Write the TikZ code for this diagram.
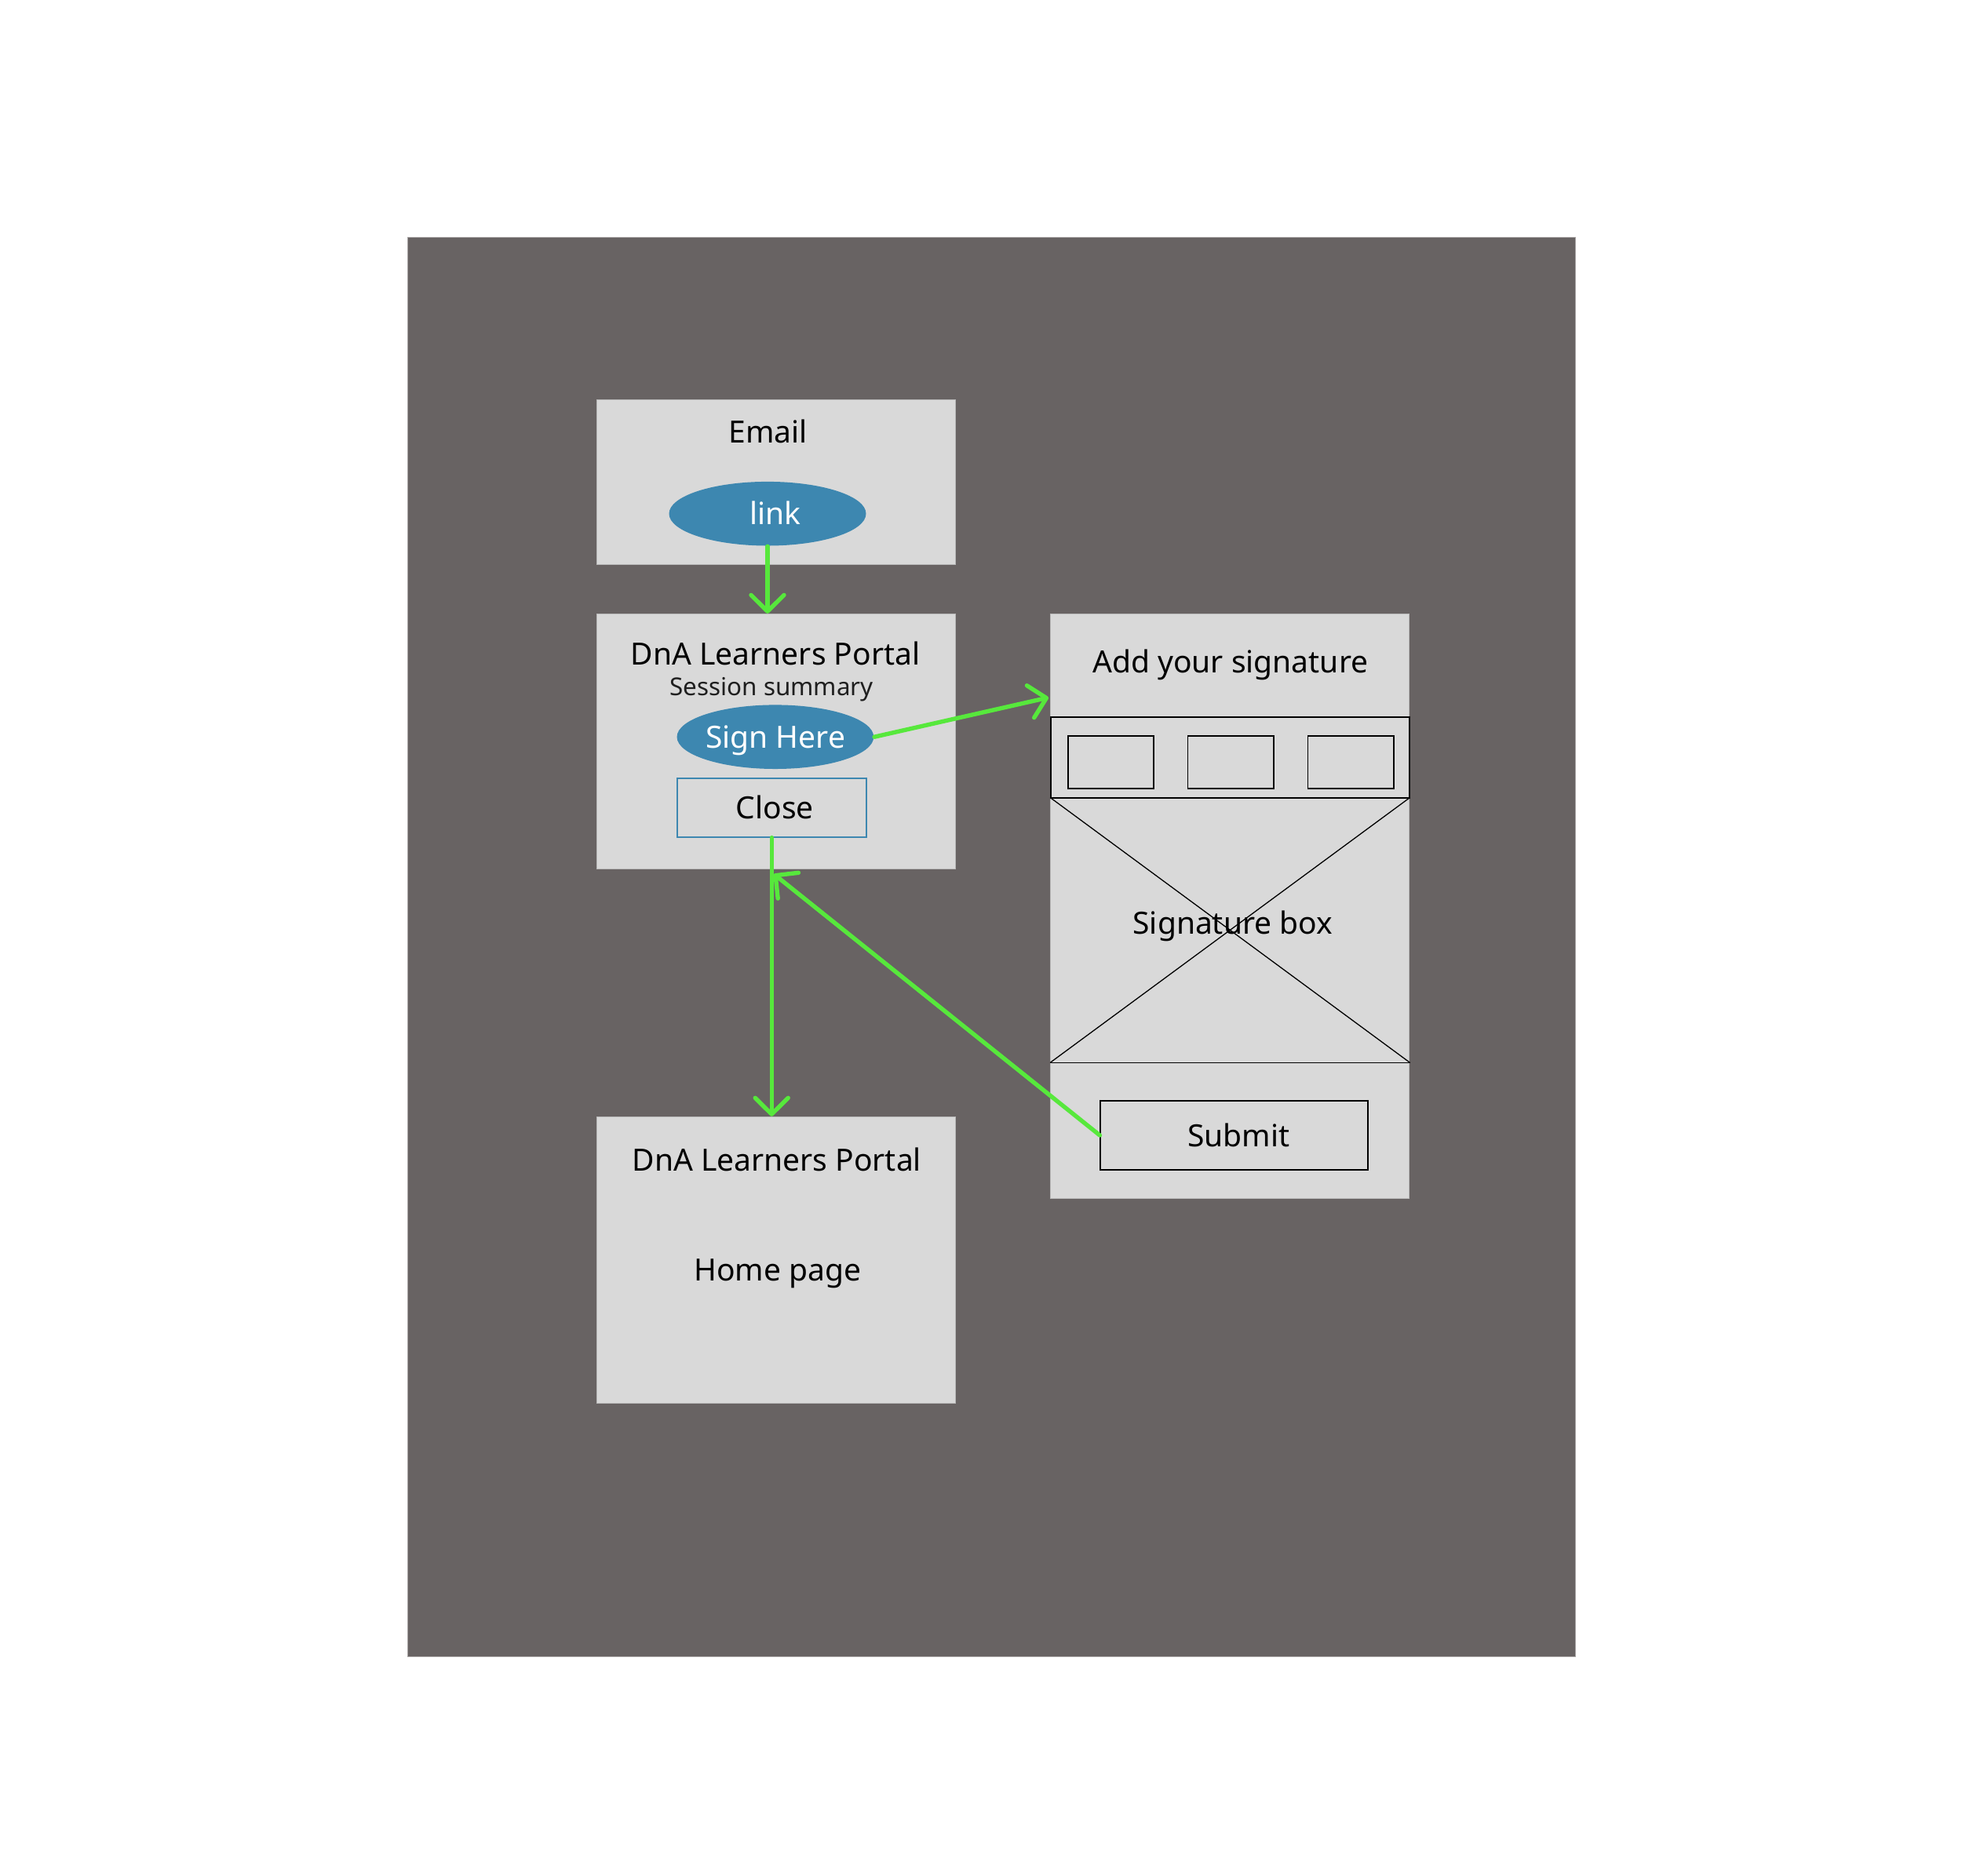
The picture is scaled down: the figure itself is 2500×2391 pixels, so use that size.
\documentclass[tikz,border=0pt]{standalone}
\usepackage{fontspec}
\setmainfont{Noto Sans}
\usetikzlibrary{arrows.meta,shapes.geometric}
\definecolor{bgdark}{RGB}{104,99,99}
\definecolor{bgedge}{RGB}{170,166,166}
\definecolor{boxgray}{RGB}{217,217,217}
\definecolor{edgegray}{RGB}{185,185,185}
\definecolor{linkblue}{RGB}{61,135,176}
\definecolor{arrowgreen}{RGB}{87,232,60}
\begin{document}
\begin{tikzpicture}[x=0.25pt,y=-0.25pt,
  screen/.style={rectangle, fill=boxgray, draw=edgegray, line width=0.25pt, inner sep=0pt},
  frame/.style={rectangle, draw=black, line width=0.42pt, inner sep=0pt},
  pill/.style={ellipse, fill=linkblue, draw=none, inner sep=0pt},
  arr/.style={draw=arrowgreen, line width=1.35pt, line cap=round,
    -{Straight Barb[length=5.2pt,width=10.5pt,round]}},
  txt/.style={inner sep=0pt, anchor=base, font=\fontsize{9.75pt}{11pt}\selectfont},
  smalltxt/.style={inner sep=0pt, anchor=base, font=\fontsize{7.85pt}{9pt}\selectfont, text=black!88}
]
\useasboundingbox (0,0) rectangle (2500,2391);
\fill[white] (0,0) rectangle (2500,2391);

% background board
\node[rectangle, fill=bgdark, draw=bgedge, line width=0.25pt, inner sep=0pt,
  minimum width=371.95pt, minimum height=452.43pt] (board) at (1263.4,1206.85) {};

% left column screens
\node[screen, minimum width=114.25pt, minimum height=52.43pt] (email) at (989,614.3) {};
\node[screen, minimum width=114.25pt, minimum height=81.23pt] (portal) at (989,944.85) {};
\node[screen, minimum width=114.3pt, minimum height=91.25pt] (home) at (989.1,1605.8) {};

% right panel
\node[screen, minimum width=114.18pt, minimum height=186.35pt] (panel) at (1567.35,1155) {};
\node[frame, minimum width=114.18pt, minimum height=25.75pt] (row) at (1567.35,965.8) {};
\node[frame, minimum width=27.33pt, minimum height=16.83pt] (optA) at (1415.5,971.35) {};
\node[frame, minimum width=27.33pt, minimum height=16.83pt] (optB) at (1568.2,971.35) {};
\node[frame, minimum width=27.33pt, minimum height=16.83pt] (optC) at (1721.2,971.35) {};
\node[rectangle, inner sep=0pt, minimum width=114.18pt, minimum height=84.05pt] (sigarea) at (1567.35,1185.4) {};
\draw[black, line width=0.33pt] (sigarea.north west) -- (sigarea.south east);
\draw[black, line width=0.33pt] (sigarea.north east) -- (sigarea.south west);
\draw[black, line width=0.4pt] (sigarea.south west) -- (sigarea.south east);
\node[frame, minimum width=85.1pt, minimum height=22.15pt] (submit) at (1572.5,1447) {};

% buttons in left screens
\node[pill, minimum width=62.75pt, minimum height=20.4pt] (link) at (978,654.7) {};
\node[pill, minimum width=62.68pt, minimum height=20.4pt] (signhere) at (987.9,939.2) {};
\node[rectangle, draw=linkblue, line width=0.5pt, inner sep=0pt,
  minimum width=60.18pt, minimum height=18.58pt] (close) at (983.25,1029.35) {};

% texts
\node[txt] (emailtxt) at (978.6,564.9) {Email};
\node[txt, text=white] (linktxt) at (988,668.6) {link};
\node[txt] (portaltxt) at (988,847.3) {DnA Learners Portal};
\node[smalltxt] (sessiontxt) at (983.2,886.1) {Session summary};
\node[txt, text=white] (signtxt) at (988.2,953.5) {Sign Here};
\node[txt] (closetxt) at (987.3,1043.3) {Close};
\node[txt] (addtxt) at (1567.8,857.7) {Add your signature};
\node[txt] (sigboxtxt) at (1570.8,1190) {Signature box};
\node[txt] (submittxt) at (1578.3,1461.7) {Submit};
\node[txt] (hometitle) at (989.8,1492) {DnA Learners Portal};
\node[txt] (hometxt) at (990.8,1632.7) {Home page};

% connectors
\coordinate (sigin) at (1336,889);
\coordinate (backtip) at (986,1114);
\draw[arr] (link.south) -- (link.south |- portal.north);
\draw[arr] (signhere.east) -- (sigin);
\draw[arr] (close.south) -- (close.south |- home.north);
\draw[arr] (submit.west) -- (backtip);
\end{tikzpicture}
\end{document}
